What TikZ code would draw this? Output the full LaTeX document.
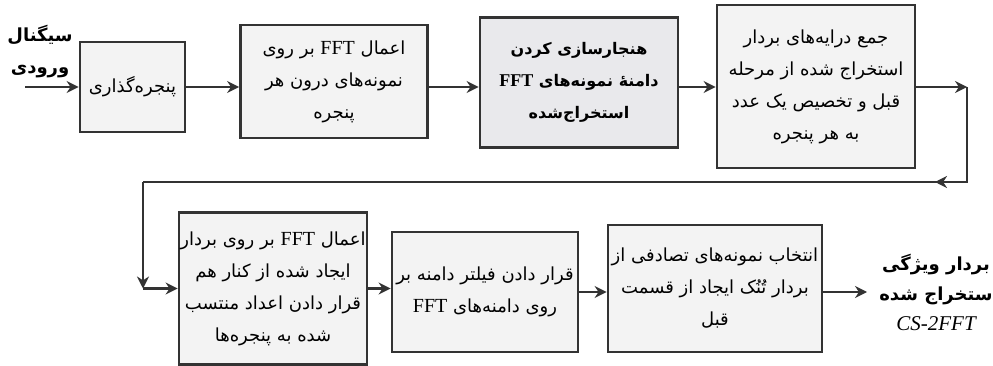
\documentclass[tikz,border=0pt]{standalone}
\usepackage{fontspec}
\usetikzlibrary{arrows.meta}
\TeXXeTstate=1
\newfontfamily\fafont[Script=Arabic]{DejaVu Sans}
\newfontfamily\enfont{Liberation Serif}
\newcommand\fa[1]{\beginR#1\endR}
\newcommand\ff{{\enfont\fontsize{20}{32}\selectfont FFT}}
\newcommand\ffb{{\enfont\bfseries\fontsize{18}{32}\selectfont FFT}}
\definecolor{edge}{HTML}{333333}
\definecolor{boxfill}{HTML}{F3F3F3}
\definecolor{boxfillb}{HTML}{E9E9EC}
\tikzset{
  box/.style={draw=edge, line width=2.8pt, fill=boxfill, inner sep=0pt, align=center,
    font=\fafont\fontsize{18}{32}\selectfont},
  arr/.style={draw=edge, line width=2.4pt, -{Stealth[length=12pt,width=12pt]}},
  wire/.style={draw=edge, line width=2.4pt},
  lbl/.style={align=center, inner sep=0pt, font=\fafont\bfseries\fontsize{18}{32}\selectfont}
}
\begin{document}
\begin{tikzpicture}[x=1pt,y=-1pt]
\useasboundingbox (0,0) rectangle (993,366);
% top row
\node[box, minimum width=105pt, minimum height=90pt] (b1) at (132.5,87) {\fa{پنجره‌گذاری}};
\node[box, minimum width=187pt, minimum height=113pt] (b2) at (334,81.5)
  {\fa{اعمال \ff\ بر روی}\\ \fa{نمونه‌های درون هر}\\ \fa{پنجره}};
\node[box, fill=boxfillb, minimum width=198pt, minimum height=130pt, font=\fafont\bfseries\fontsize{16}{32}\selectfont] (b3) at (579,82.5)
  {\fa{هنجارسازی کردن}\\ \fa{دامنهٔ نمونه‌های \ffb}\\ \fa{استخراج‌شده}};
\node[box, minimum width=198pt, minimum height=163pt] (b4) at (816,86.5)
  {\fa{جمع درایه‌های بردار}\\ \fa{استخراج شده از مرحله}\\ \fa{قبل و تخصیص یک عدد}\\ \fa{به هر پنجره}};
% bottom row
\node[box, minimum width=188pt, minimum height=152pt] (b5) at (273,288.5)
  {\fa{اعمال \ff\ بر روی بردار}\\ \fa{ایجاد شده از کنار هم}\\ \fa{قرار دادن اعداد منتسب}\\ \fa{شده به پنجره‌ها}};
\node[box, minimum width=186pt, minimum height=120pt] (b6) at (485,292)
  {\fa{قرار دادن فیلتر دامنه بر}\\ \fa{روی دامنه‌های \ff}};
\node[box, minimum width=214pt, minimum height=127pt] (b7) at (715,288.5)
  {\fa{انتخاب نمونه‌های تصادفی از}\\ \fa{بردار تُنُک ایجاد از قسمت}\\ \fa{قبل}};
% labels
\node[lbl] (inl) at (40,52) {\fa{سیگنال}\\ \fa{ورودی}};
\node[lbl, font=\fafont\bfseries\fontsize{18}{30}\selectfont] (outl) at (936,292) {\fa{بردار ویژگی}\\ \fa{ستخراج شده}\\ {\enfont\itshape\mdseries\fontsize{21}{26}\selectfont CS-2FFT}};
% coordinates
\coordinate (in0) at (25,87);
\coordinate (r1) at (967,87);
\coordinate (r2) at (967,182);
\coordinate (rm) at (935,182);
\coordinate (l1) at (143,182);
\coordinate (l2) at (143,288.5);
\coordinate (o1) at (867,292);
% connectors
\draw[arr] (in0) -- (in0 -| b1.west);
\draw[arr] (b1.east) -- (b1.east -| b2.west);
\draw[arr] (b1.east -| b2.east) -- (b1.east -| b3.west);
\draw[arr] (b1.east -| b3.east) -- (b1.east -| b4.west);
\draw[arr] (b1.east -| b4.east) -- (r1);
\draw[wire] (r1) -- (r2) -- (l1);
\draw[arr] (r2) -- (rm);
\draw[arr] (l1) -- (l2);
\draw[arr] (l2) -- (b5.west);
\draw[arr] (b5.east) -- (b5.east -| b6.west);
\draw[arr] (b6.east) -- (b6.east -| b7.west);
\draw[arr] (b6.east -| b7.east) -- (o1);
\end{tikzpicture}
\end{document}
